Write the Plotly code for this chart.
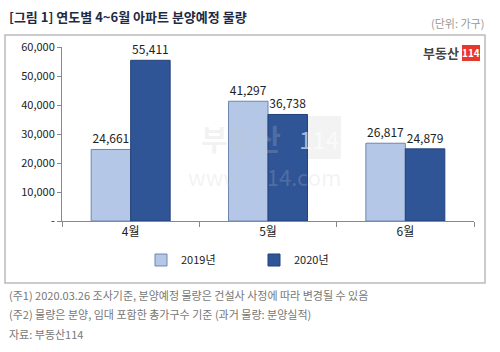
import plotly.graph_objects as go

categories = ["4월", "5월", "6월"]
series_2019 = [24661, 41297, 26817]
series_2020 = [55411, 36738, 24879]
series_names = ["2019년", "2020년"]
y_tickvals = [0, 10000, 20000, 30000, 40000, 50000, 60000]
y_ticktext = ["-", "10,000", "20,000", "30,000", "40,000", "50,000", "60,000"]

W, H = 500, 352
L, R, T, B = 62, 474, 47, 221  # plot area pixels

def px(x):
    return (x - L) / (R - L)

def py(y):
    return (B - y) / (B - T)

FONT = "Noto Sans CJK KR"

fig = go.Figure()
fig.add_trace(go.Bar(
    x=categories, y=series_2019, name=series_names[0],
    marker=dict(color="#B4C7E7", line=dict(color="#6F86AE", width=1)),
    texttemplate="%{y:,}", textposition="outside",
    textfont=dict(size=12, color="#222222", family=FONT), cliponaxis=False,
))
fig.add_trace(go.Bar(
    x=categories, y=series_2020, name=series_names[1],
    marker=dict(color="#2F5597", line=dict(color="#23427A", width=1)),
    texttemplate="%{y:,}", textposition="outside",
    textfont=dict(size=12, color="#222222", family=FONT), cliponaxis=False,
))

fig.update_layout(
    width=W, height=H,
    margin=dict(l=L, r=W - R, t=T, b=H - B),
    paper_bgcolor="white", plot_bgcolor="white",
    barmode="group", bargap=0.425, bargroupgap=0,
    font=dict(family=FONT, size=11, color="#333333"),
    showlegend=True,
    legend=dict(orientation="h", x=px(141), xanchor="left", y=py(260), yanchor="middle",
                font=dict(size=11, color="#222222", family=FONT),
                entrywidth=68, itemwidth=30, traceorder="normal",
                bgcolor="rgba(0,0,0,0)"),
    xaxis=dict(showline=True, linecolor="#888888", linewidth=1,
               ticks="outside", ticklen=5, tickcolor="#888888",
               tickson="boundaries", showgrid=False,
               tickfont=dict(size=12, color="#222222", family=FONT)),
    yaxis=dict(range=[0, 60000], tickvals=y_tickvals, ticktext=y_ticktext,
               showline=True, linecolor="#888888", linewidth=1,
               ticks="outside", ticklen=4, tickcolor="#888888",
               showgrid=False, zeroline=False,
               tickfont=dict(size=11, color="#222222", family=FONT)),
)

shapes = [
    # chart border
    dict(type="rect", xref="paper", yref="paper",
         x0=px(5), x1=px(485), y0=py(283), y1=py(35),
         line=dict(color="#BBBBBB", width=1.5), fillcolor="rgba(0,0,0,0)", layer="below"),
    # logo red box
    dict(type="rect", xref="paper", yref="paper",
         x0=px(462), x1=px(480), y0=py(61), y1=py(45),
         line=dict(width=0), fillcolor="#E8382B"),
    # watermark box
    dict(type="rect", xref="paper", yref="paper",
         x0=px(297), x1=px(341), y0=py(159), y1=py(116),
         line=dict(width=0), fillcolor="rgba(200,200,200,0.22)", layer="below"),
]

annotations = [
    dict(text="<b>[그림 1] 연도별 4~6월 아파트 분양예정 물량</b>", xref="paper", yref="paper",
         x=px(7), y=py(16), xanchor="left", yanchor="middle", showarrow=False,
         font=dict(size=13, color="#1F2A44", family=FONT)),
    dict(text="(단위: 가구)", xref="paper", yref="paper",
         x=px(486), y=py(23), xanchor="right", yanchor="middle", showarrow=False,
         font=dict(size=11, color="#999999", family=FONT)),
    dict(text="<b>부동산</b>", xref="paper", yref="paper",
         x=px(461), y=py(53), xanchor="right", yanchor="middle", showarrow=False,
         font=dict(size=13, color="#444444", family=FONT)),
    dict(text="<b>114</b>", xref="paper", yref="paper",
         x=px(471), y=py(53), xanchor="center", yanchor="middle", showarrow=False,
         font=dict(size=10, color="white", family=FONT)),
    # watermark
    dict(text="<b>부동산</b>", xref="paper", yref="paper",
         x=px(241), y=py(138), xanchor="center", yanchor="middle", showarrow=False,
         font=dict(size=29, color="rgba(200,200,200,0.22)", family=FONT)),
    dict(text="114", xref="paper", yref="paper",
         x=px(319), y=py(138), xanchor="center", yanchor="middle", showarrow=False,
         font=dict(size=24, color="rgba(255,255,255,0.6)", family=FONT)),
    dict(text="www.r114.com", xref="paper", yref="paper",
         x=px(264), y=py(176), xanchor="center", yanchor="middle", showarrow=False,
         font=dict(size=22, color="rgba(200,200,200,0.22)", family=FONT)),
    # footnotes
    dict(text="(주1) 2020.03.26 조사기준, 분양예정 물량은 건설사 사정에 따라 변경될 수 있음",
         xref="paper", yref="paper", x=px(7), y=py(295), xanchor="left", yanchor="middle",
         showarrow=False, font=dict(size=11, color="#777777", family=FONT)),
    dict(text="(주2) 물량은 분양, 임대 포함한 총가구수 기준 (과거 물량: 분양실적)",
         xref="paper", yref="paper", x=px(7), y=py(314), xanchor="left", yanchor="middle",
         showarrow=False, font=dict(size=11, color="#777777", family=FONT)),
    dict(text="자료: 부동산114",
         xref="paper", yref="paper", x=px(7), y=py(334), xanchor="left", yanchor="middle",
         showarrow=False, font=dict(size=11, color="#777777", family=FONT)),
]
fig.update_layout(shapes=shapes, annotations=annotations)

fig.write_html("out.html")
